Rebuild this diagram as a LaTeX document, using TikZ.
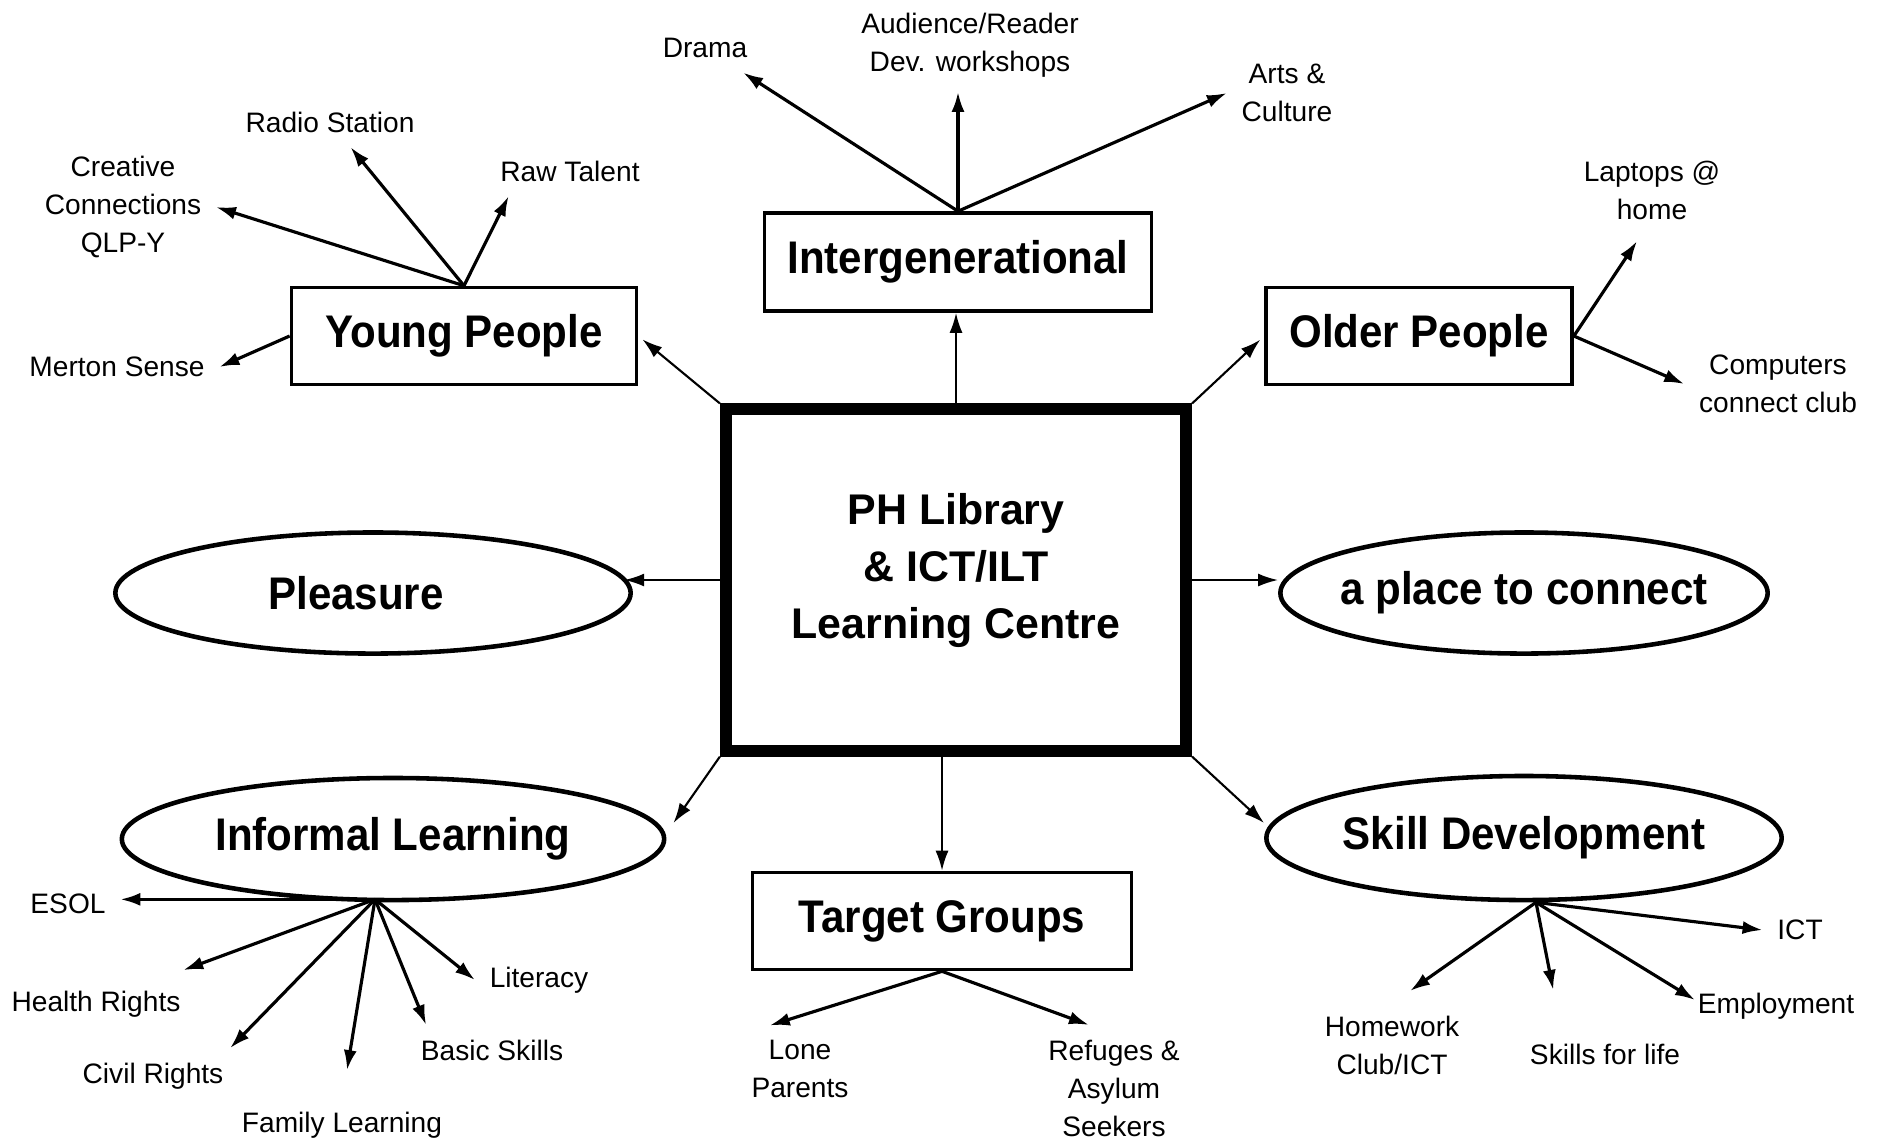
\documentclass[tikz,border=0pt]{standalone}
\usepackage{fontspec}
\setmainfont{Liberation Sans}
\newfontfamily\headfont{Liberation Sans}[FakeStretch=0.92]
\usetikzlibrary{arrows.meta,shapes.geometric}
\def\smallsize{\fontsize{8pt}{10.8pt}\selectfont}
\def\bigsize{\fontsize{13pt}{16pt}\selectfont}

\begin{document}
\begin{tikzpicture}[x=0.01cm,y=-0.01cm,>={Latex[length=2mm,width=1.3mm]}]
            \tikzstyle{topic}=[draw,line width=1pt,inner sep=0pt,font=\headfont\bfseries\bigsize]
            \tikzstyle{oval}=[ellipse,draw,line width=1.3pt,inner ysep=0pt,inner xsep=-0.2cm,font=\headfont\bfseries\bigsize]
            \tikzstyle{item}=[align=center,inner sep=4pt,font=\smallsize]
            \tikzstyle{link}=[->,line width=0.6pt]
            \tikzstyle{branch}=[->,line width=0.9pt]

            \useasboundingbox (0,0) rectangle (1877,1141);

            % Draw the centre box
            \node[draw,line width=3.4pt,minimum width=4.6cm,minimum height=3.41cm,align=center,text depth=0.28cm,
                font=\bfseries\fontsize{12.2pt}{16.2pt}\selectfont] (C) at (956,580) {PH Library\\\& ICT/ILT\\Learning Centre};

            % Draw the topic boxes and ovals
            \node[topic,minimum width=3.87cm,minimum height=0.98cm] (IG) at (958,262) {Intergenerational};
            \node[topic,minimum width=3.45cm,minimum height=0.97cm] (YP) at (464,336) {Young People};
            \node[topic,minimum width=3.06cm,minimum height=0.97cm] (OP) at (1419,336) {Older People};
            \node[topic,minimum width=3.79cm,minimum height=0.97cm] (TG) at (942,921) {Target Groups};
            \node[oval,minimum width=5.15cm,minimum height=1.21cm] (PL) at (373,593) {Pleasure\hspace*{0.34cm}};
            \node[oval,minimum width=4.87cm,minimum height=1.21cm] (PC) at (1524,593) {a place to connect};
            \node[oval,minimum width=5.42cm,minimum height=1.22cm] (IL) at (393,839) {Informal Learning};
            \node[oval,minimum width=5.15cm,minimum height=1.24cm] (SD) at (1524,838) {Skill Development};

            % Draw the items
            \node[item] (drama) at (705,48) {Drama};
            \node[item] (aud) at (970,45) {Audience/Reader\\Dev. workshops};
            \node[item] (arts) at (1287,93) {Arts \&\\Culture};
            \node[item] (radio) at (330,122) {Radio Station};
            \node[item] (raw) at (570,171) {Raw Talent};
            \node[item] (cc) at (123,207) {Creative\\Connections\\QLP-Y};
            \node[item] (merton) at (117,367) {Merton Sense};
            \node[item] (laptops) at (1652,190) {Laptops @\\home};
            \node[item] (computers) at (1778,384) {Computers\\connect club};
            \node[item] (esol) at (68,904) {ESOL};
            \node[item] (health) at (96,1004) {Health Rights};
            \node[item] (civil) at (153,1076) {Civil Rights};
            \node[item] (family) at (342,1125) {Family Learning};
            \node[item] (basic) at (492,1050) {Basic Skills};
            \node[item] (literacy) at (539,980) {Literacy};
            \node[item] (lone) at (800,1069) {Lone\\Parents};
            \node[item] (refuges) at (1114,1088) {Refuges \&\\Asylum\\Seekers};
            \node[item] (homework) at (1392,1045) {Homework\\Club/ICT};
            \node[item] (skills) at (1605,1054) {Skills for life};
            \node[item] (employment) at (1776,1006) {Employment};
            \node[item] (ict) at (1800,930) {ICT};

            % Connect the centre with every topic
            \draw[link,shorten >=1.5pt] (C.north west) -- (YP.east);
            \draw[link] (C.north) -- (C.north |- IG.south);
            \draw[link,shorten >=1.5pt] (C.north east) -- (OP.west);
            \draw[link,shorten >=-2.5pt] (C.west) -- (C.west -| PL.east);
            \draw[link] (C.east) -- (C.east -| PC.west);
            \draw[link] (C.south west) -- ([xshift=0.07cm,yshift=0.16cm]IL.east);
            \draw[link] (TG.north |- C.south) -- (TG.north);
            \draw[link] (C.south east) -- ([yshift=0.15cm]SD.west);

            % Intergenerational
            \foreach \dest in {drama,arts.west}
                \draw[branch] (IG.north) -- (\dest);
            \draw[branch] (IG.north) -- (IG.north |- aud.south);

            % Young People
            \foreach \dest in {cc.east,radio}
                \draw[branch] (YP.north) -- (\dest);
            \draw[branch] (YP.north) -- ([xshift=0.23cm]raw.south west);
            \draw[branch] (YP.west) -- (merton.east);

            % Older People
            \draw[branch] (OP.east) -- ([xshift=-0.15cm,yshift=-0.07cm]laptops.south);
            \draw[branch] (OP.east) -- (computers.west);

            % Informal Learning
            \coordinate (IL-o) at ([xshift=-0.18cm,yshift=0.03cm]IL.south);
            \draw[branch] (IL-o) -- (IL-o -| esol.east);
            \draw[branch] (IL-o) -- ([xshift=-0.12cm,yshift=0.06cm]health.north east);
            \draw[branch] (IL-o) -- ([xshift=-0.08cm]civil.north east);
            \draw[branch] (IL-o) -- ([xshift=0.05cm,yshift=0.27cm]family.north);
            \draw[branch] (IL-o) -- ([xshift=0.2cm]basic.north west);
            \draw[branch] (IL-o) -- (literacy.west);

            % Target Groups
            \draw[branch] (TG.south) -- ([xshift=0.33cm]lone.north west);
            \draw[branch] (TG.south) -- ([xshift=-0.25cm]refuges.north);

            % Skill Development
            \coordinate (SD-o) at ([xshift=0.12cm]SD.south);
            \draw[branch] (SD-o) -- ([xshift=0.18cm,yshift=0.1cm]homework.north);
            \draw[branch] (SD-o) -- ([xshift=0.38cm,yshift=0.39cm]skills.north west);
            \draw[branch] (SD-o) -- ([xshift=0.12cm,yshift=0.06cm]employment.west);
            \draw[branch] (SD-o) -- (ict.west);
\end{tikzpicture}
\end{document}
